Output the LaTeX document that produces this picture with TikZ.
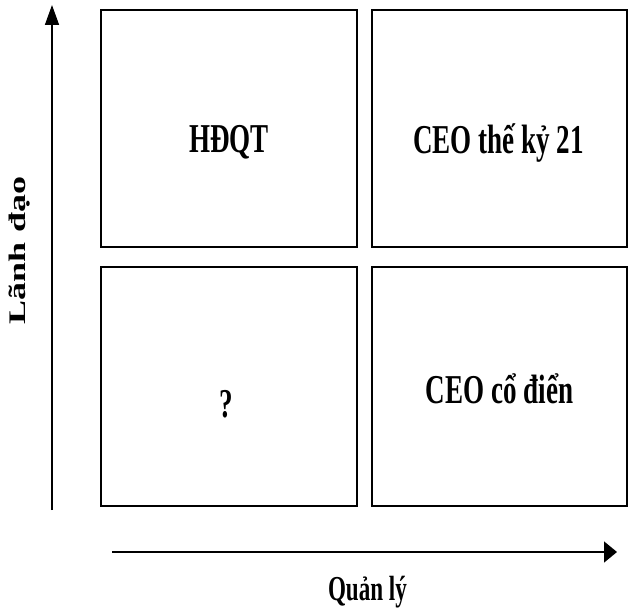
\documentclass[tikz,border=0pt]{standalone}
\usepackage{fontspec}
\usepackage{graphicx}
\setmainfont{Liberation Serif}
\newfontfamily\narrowfont[FakeStretch=0.66]{Liberation Serif}
\usetikzlibrary{arrows.meta,positioning}

\begin{document}
\begin{tikzpicture}[cell/.style={draw,line width=1.6pt,inner sep=0pt},
  celltext/.style={anchor=base,font=\narrowfont\bfseries\fontsize{41}{41}\selectfont}]
\useasboundingbox (0pt,0pt) rectangle (630pt,-610pt);

\node (HDQT) at (229pt,-128.5pt)[cell,minimum width=256pt,minimum height=237pt] {};
\node (CEO21) at (499.5pt,-128.5pt)[cell,minimum width=255pt,minimum height=237pt] {};
\node (Hoi) at (229pt,-386.5pt)[cell,minimum width=256pt,minimum height=239pt] {};
\node (CEOcd) at (499.5pt,-386.5pt)[cell,minimum width=255pt,minimum height=239pt] {};

\node (tHDQT) at ([yshift=-24pt]HDQT.center)[celltext] {HĐQT};
\node (tCEO21) at ([xshift=-1pt,yshift=-25pt]CEO21.center)[celltext] {CEO thế kỷ 21};
\node (tHoi) at ([xshift=-3pt,yshift=-31pt]Hoi.center)[celltext] {?};
\node (tCEOcd) at ([yshift=-17pt]CEOcd.center)[celltext] {CEO cổ điển};

\coordinate (V0) at (52pt,-510pt);
\coordinate (V1) at (52pt,-5pt);
\coordinate (H0) at (112pt,-552pt);
\coordinate (H1) at (617pt,-552pt);
\draw [-{Triangle[length=20pt,width=14pt]},line width=1.6pt] (V0) to (V1);
\draw [-{Triangle[length=13pt,width=21pt]},line width=1.6pt] (H0) to (H1);

\node (Lanhdao) at (26pt,-250.5pt)[anchor=base,rotate=90,font=\bfseries\fontsize{36}{36}\selectfont] {\scalebox{1}[0.66]{Lãnh đạo}};
\node (Quanly) at (367.5pt,-600pt)[anchor=base,font=\narrowfont\bfseries\fontsize{35}{35}\selectfont] {Quản lý};
\end{tikzpicture}
\end{document}
